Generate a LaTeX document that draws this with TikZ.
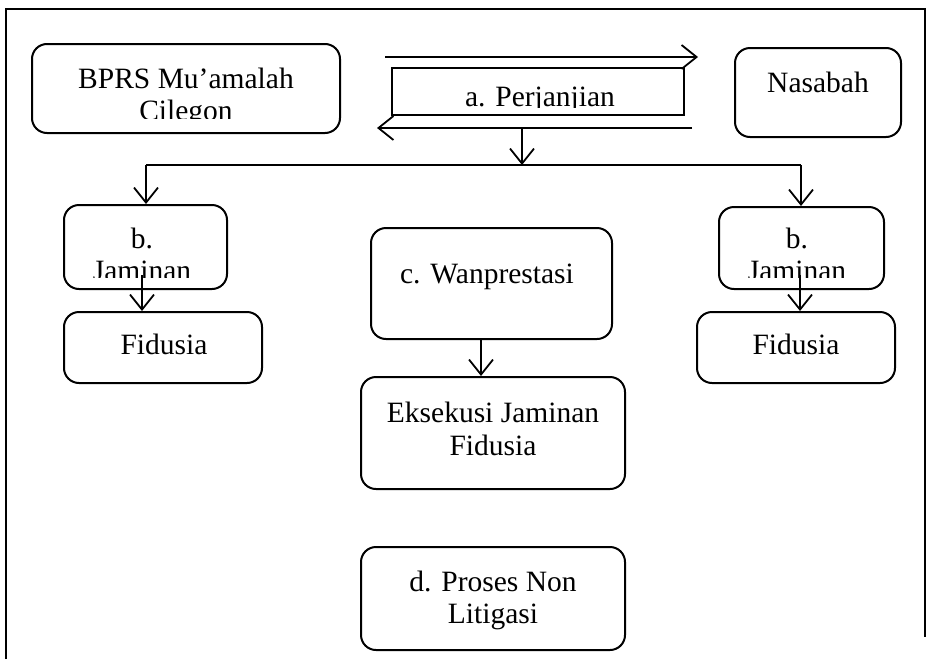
\documentclass[tikz,border=0pt]{standalone}
\usepackage{fontspec}
\setmainfont{Liberation Serif}
\usetikzlibrary{arrows.meta}
\begin{document}
\begin{tikzpicture}[x=1pt,y=-1pt,
  box/.style={draw, line width=2pt, rounded corners=15pt, inner sep=0pt},
  sqbox/.style={draw, line width=2pt, inner sep=0pt},
  lbl/.style={anchor=base, inner sep=0pt, font=\fontsize{29.5}{32}\selectfont},
  conn/.style={line width=1.8pt},
  arr/.style={conn, -{Straight Barb[length=15pt,width=24pt,line width=1.8pt]}},
  frame/.style={line width=2pt}
]
\useasboundingbox (0,0) rectangle (926,659);
% frame
\draw[frame] (6,659) -- (6,9) -- (926,9);
\draw[frame] (925,9) -- (925,637);

% boxes
\node[box, minimum width=308pt, minimum height=89pt] (bprs) at (186,88.5) {};
\node[box, minimum width=166pt, minimum height=89pt] (nas) at (818,92.5) {};
\node[sqbox, minimum width=292pt, minimum height=47pt] (perj) at (538,91.5) {};
\node[box, minimum width=163pt, minimum height=84pt] (bL) at (145.5,247) {};
\node[box, minimum width=198pt, minimum height=71pt] (fL) at (163,347.5) {};
\node[box, minimum width=165pt, minimum height=82pt] (bR) at (801.5,248) {};
\node[box, minimum width=198pt, minimum height=71pt] (fR) at (796,347.5) {};
\node[box, minimum width=241pt, minimum height=111pt] (wan) at (491.5,283.5) {};
\node[box, minimum width=264pt, minimum height=112pt] (eks) at (493,433) {};
\node[box, minimum width=264pt, minimum height=103pt] (pro) at (493,598.5) {};

% texts (clipped like the original text frames)
\begin{scope}
  \clip (40,50) rectangle (332,118);
  \node[lbl] (tbprs1) at (186,88) {BPRS Mu’amalah};
  \node[lbl] (tbprs2) at (186,120) {Cilegon};
\end{scope}
\begin{scope}
  \clip (396,70) rectangle (680,107.5);
  \node[lbl] (tperj) at (540,106) {a. Perjanjian};
\end{scope}
\node[lbl] (tnas) at (818,92) {Nasabah};
\begin{scope}
  \clip (66,207) rectangle (225,277);
  \node[lbl] (tbL1) at (142,248) {b.};
  \node[lbl] (tbL2) at (142,280) {Jaminan};
\end{scope}
\begin{scope}
  \clip (721,209) rectangle (882,277);
  \node[lbl] (tbR1) at (797,248) {b.};
  \node[lbl] (tbR2) at (797,280) {Jaminan};
\end{scope}
\node[lbl] (tfL) at (164,354) {Fidusia};
\node[lbl] (tfR) at (796,354) {Fidusia};
\node[lbl] (twan) at (487,283) {c. Wanprestasi};
\node[lbl] (teks1) at (493,422) {Eksekusi Jaminan};
\node[lbl] (teks2) at (493,455) {Fidusia};
\node[lbl] (tpro1) at (493,591) {d. Proses Non};
\node[lbl] (tpro2) at (493,623) {Litigasi};

% connectors
\coordinate (ta) at (385,57);
\coordinate (tb) at (698,57);
\draw[arr] (ta) -- (tb);
\coordinate (ba) at (692,128);
\coordinate (bb) at (377,128);
\draw[arr] (ba) -- (bb);
\coordinate (vs) at (522,128);
\coordinate (vj) at (522,165);
\draw[arr] (vs) -- (vj);
\coordinate (hl) at (146,165);
\coordinate (hr) at (801,165);
\draw[conn] (hl) -- (hr);
\draw[arr] (hl) -- (hl |- bL.north);
\draw[arr] (hr) -- (hr |- bR.north);
\coordinate (jl) at (142,275);
\coordinate (jr) at (800,275);
\draw[arr] (jl) -- (jl |- fL.north);
\draw[arr] (jr) -- (jr |- fR.north);
\coordinate (ws) at (481,0);
\draw[arr] (ws |- wan.south) -- (ws |- eks.north);
\end{tikzpicture}
\end{document}
